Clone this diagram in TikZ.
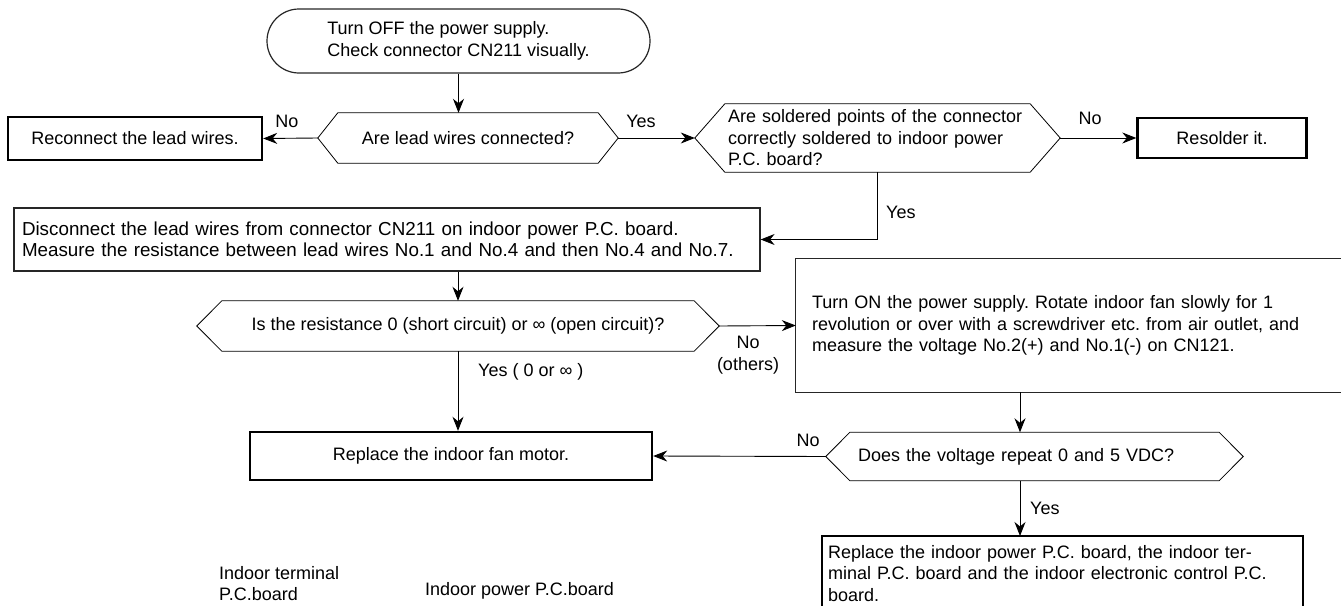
\documentclass[tikz,border=0pt]{standalone}
\usepackage{fontspec}
\setmainfont{Liberation Sans}
\usetikzlibrary{arrows.meta}
\frenchspacing
\newcommand\hexdraw[2]{\draw[hexline] (#1.west) -- ([xshift=#2]#1.north west) -- ([xshift=-#2]#1.north east) -- (#1.east) -- ([xshift=-#2]#1.south east) -- ([xshift=#2]#1.south west) -- cycle;}
\begin{document}
\begin{tikzpicture}[x=1pt,y=-1pt,
  txt/.style={font=\fontsize{18}{21.5}\selectfont, inner sep=0pt},
  thinbox/.style={draw=black!85, line width=1.2pt},
  arr/.style={line width=0.9pt,-{Stealth[length=14pt,width=11pt,inset=4.5pt]}},
  hexline/.style={line width=0.8pt},
  thickbox/.style={draw, line width=2.4pt},
]
\useasboundingbox (0,0) rectangle (1341,605);
\coordinate (bot) at (0,615);
\coordinate (c4) at (1020,0);

\node[txt, thinbox, rounded corners=32pt, minimum width=383pt, minimum height=64pt, align=left] (start) at (458.5,41) {Turn OFF the power supply.\\Check connector CN211 visually.};

\node[txt, minimum width=300pt, minimum height=50pt] (d1) at (468,138) {Are lead wires connected?};
\hexdraw{d1}{20}

\node[txt, thickbox, minimum width=254pt, minimum height=43pt] (recon) at (135,138.5) {Reconnect the lead wires.};

\node[txt, text width=299pt, inner xsep=33pt, minimum height=68pt, align=left] (d2) at (877.5,138) {Are soldered points of the connector\\correctly soldered to indoor power\\P.C. board?};
\hexdraw{d2}{30}

\node[txt, thickbox, minimum width=169pt, minimum height=40pt] (res) at (1222,138) {Resolder it.};

\node[txt, font=\fontsize{18.8}{21.5}\selectfont, thinbox, text width=730pt, inner xsep=8pt, minimum height=63pt, align=left] (meas) at (387,239.5) {Disconnect the lead wires from connector CN211 on indoor power P.C. board.\\Measure the resistance between lead wires No.1 and No.4 and then No.4 and No.7.};

\node[txt, minimum width=522pt, minimum height=50pt] (d3) at (458,326) {Is the resistance 0 (short circuit) or ∞ (open circuit)?};
\hexdraw{d3}{25}

\node[txt, text width=513pt, inner xsep=16pt, minimum height=133pt, align=left] (turn) at (1068.5,325.5) {Turn ON the power supply. Rotate indoor fan slowly for 1\\revolution or over with a screwdriver etc. from air outlet, and\\measure the voltage No.2(+) and No.1(-) on CN121.};
\draw[draw=black!85, line width=1.2pt] (turn.north east) -- (turn.north west) -- (turn.south west) -- (turn.south east);

\node[txt, thickbox, minimum width=402pt, minimum height=48pt] (fan) at (451,456) {Replace the indoor fan motor.};

\node[txt, text width=353pt, inner xsep=32pt, minimum height=48pt, align=left] (d4) at (1034.5,456.5) {Does the voltage repeat 0 and 5 VDC?};
\hexdraw{d4}{24}

\node[txt, text width=469pt, inner xsep=6pt, inner ysep=9pt, align=left, anchor=north] (fin) at (1062.5,536) {Replace the indoor power P.C. board, the indoor ter-\\minal P.C. board and the indoor electronic control P.C.\\board.};
\draw[line width=2.4pt] (fin.west |- bot) -- (fin.north west) -- (fin.north east) -- (fin.east |- bot);

\node[txt, align=left, anchor=north west] (itpc) at (219,566) {Indoor terminal\\P.C.board};
\node[txt, anchor=west] (ippc) at (425,591) {Indoor power P.C.board};

\node[txt] (l1) at (287,121) {No};
\node[txt] (l2) at (641,121) {Yes};
\node[txt] (l3) at (1090,118) {No};
\node[txt, anchor=west] (l4) at (886,212) {Yes};
\node[txt, align=center] (l5) at (748,355) {No\\(others)};
\node[txt, anchor=west] (l6) at (478,372) {Yes ( 0 or ∞ )};
\node[txt] (l7) at (808,440) {No};
\node[txt, anchor=west] (l8) at (1030,508) {Yes};

\draw[arr] (start.south) -- (start.south |- d1.north);
\draw[arr] (d1.west) -- (recon.east);
\draw[arr] (d1.east) -- (d2.west);
\draw[arr] (d2.east) -- (res.west);
\draw[arr] (d2.south) |- (meas.east);
\draw[arr] (d3.north |- meas.south) -- (d3.north);
\draw[arr] (d3.east) -- (turn.west);
\draw[arr] (d3.south) -- (d3.south |- fan.north);
\draw[arr] (c4 |- turn.south) -- (c4 |- d4.north);
\draw[arr] (c4 |- d4.south) -- (c4 |- fin.north);
\draw[arr] (d4.west) -- (fan.east);
\end{tikzpicture}
\end{document}
